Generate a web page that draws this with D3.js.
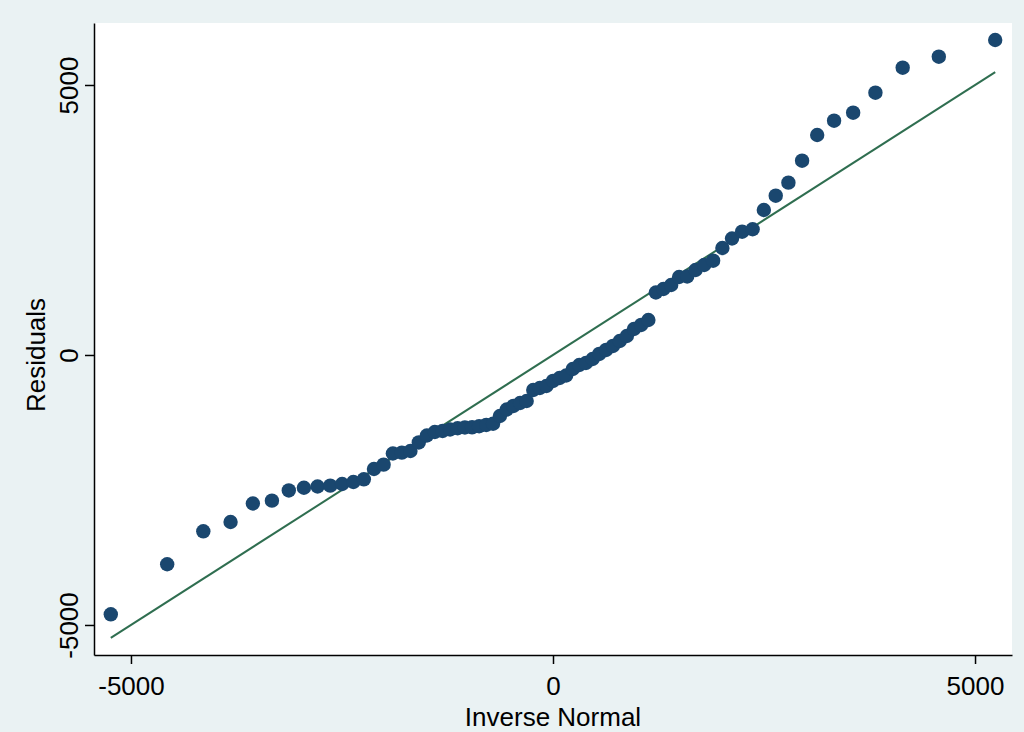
<!DOCTYPE html>
<html lang="en">
<head>
<meta charset="UTF-8">
<title>Residuals vs Inverse Normal</title>
<script src="https://d3js.org/d3.v7.min.js"></script>
<style>
    body {
        margin: 0;
        padding: 0;
        background-color: #eaf2f3;
        font-family: 'Liberation Sans', Arial, sans-serif;
    }
    #chart svg { display: block; }
    .axis path, .axis line { stroke: #000; stroke-width: 1.5; }
    .axis text { font-family: 'Liberation Sans', Arial, sans-serif; font-size: 26px; fill: #000; }
</style>
</head>
<body>
<div id="chart"></div>
<script>
    // inverse normal quantiles (x) and sorted residuals (y)
    const inverseNormal = [
        -5239, -4571, -4143, -3820, -3556, -3330, -3130, -2951, -2789, -2639,
        -2498, -2365, -2241, -2121, -2007, -1897, -1791, -1689, -1590, -1494,
        -1400, -1308, -1219, -1130, -1044, -959, -875, -791, -710, -629,
        -548, -469, -390, -312, -234, -156, -78, 0, 78, 156,
        234, 312, 390, 469, 548, 629, 710, 791, 875, 959,
        1044, 1130, 1219, 1308, 1400, 1494, 1590, 1689, 1791, 1897,
        2007, 2121, 2241, 2365, 2498, 2639, 2789, 2951, 3130, 3330,
        3556, 3820, 4143, 4571, 5239
    ];
    const residuals = [
        -4802, -3876, -3265, -3093, -2750, -2698, -2509, -2459, -2435, -2420,
        -2389, -2352, -2302, -2111, -2031, -1824, -1809, -1778, -1620, -1491,
        -1426, -1407, -1380, -1357, -1343, -1339, -1320, -1296, -1274, -1130,
        -1009, -944, -889, -852, -648, -611, -574, -481, -426, -380,
        -259, -185, -148, -74, 19, 93, 167, 259, 352, 481,
        556, 648, 1157, 1222, 1296, 1444, 1454, 1574, 1667, 1746,
        1981, 2157, 2283, 2328, 2685, 2950, 3191, 3598, 4074, 4339,
        4487, 4857, 5320, 5524, 5833
    ];
    const xTicks = [-5000, 0, 5000];
    const yTicks = [-5000, 0, 5000];
    const xDomain = [-5438, 5438];
    const yDomain = [-5556, 6148];

    const width = 1024, height = 732;
    const margin = { top: 23, right: 12, bottom: 77, left: 94 };

    const svg = d3.select("#chart").append("svg")
        .attr("width", width)
        .attr("height", height);

    svg.append("rect")
        .attr("width", width).attr("height", height)
        .attr("fill", "#eaf2f3");

    const x = d3.scaleLinear().domain(xDomain).range([margin.left, width - margin.right]);
    const y = d3.scaleLinear().domain(yDomain).range([height - margin.bottom, margin.top]);

    // plot region
    svg.append("rect")
        .attr("x", margin.left).attr("y", margin.top)
        .attr("width", width - margin.left - margin.right)
        .attr("height", height - margin.top - margin.bottom)
        .attr("fill", "#ffffff");

    const points = inverseNormal.map((v, i) => ({ q: v, r: residuals[i] }));

    // reference line y = x across the range of the quantiles
    const ext = d3.extent(inverseNormal);
    svg.append("line")
        .attr("x1", x(ext[0])).attr("y1", y(ext[0]))
        .attr("x2", x(ext[1])).attr("y2", y(ext[1]))
        .attr("stroke", "#2f6e50")
        .attr("stroke-width", 2);

    svg.append("g")
        .selectAll("circle")
        .data(points)
        .enter().append("circle")
        .attr("cx", d => x(d.q))
        .attr("cy", d => y(d.r))
        .attr("r", 7.2)
        .attr("fill", "#1a476f");

    const fmt = d => String(d);   // plain hyphen, like Stata

    const xAxis = svg.append("g")
        .attr("class", "axis")
        .attr("transform", `translate(0,${height - margin.bottom})`)
        .call(d3.axisBottom(x).tickValues(xTicks).tickFormat(fmt).tickSize(9).tickSizeOuter(0));
    xAxis.selectAll("text").attr("dy", null).attr("y", 40);

    const yAxis = svg.append("g")
        .attr("class", "axis")
        .attr("transform", `translate(${margin.left},0)`)
        .call(d3.axisLeft(y).tickValues(yTicks).tickFormat(fmt).tickSize(9).tickSizeOuter(0));
    yAxis.selectAll("text")
        .attr("x", null).attr("dy", null)
        .attr("text-anchor", "middle")
        .attr("transform", "translate(-16,0) rotate(-90)");

    svg.append("text")
        .attr("x", x(0)).attr("y", 725.5)
        .attr("text-anchor", "middle")
        .attr("font-size", "26px")
        .text("Inverse Normal");

    svg.append("text")
        .attr("transform", `translate(45,${y(0)}) rotate(-90)`)
        .attr("text-anchor", "middle")
        .attr("font-size", "26px")
        .text("Residuals");
</script>
</body>
</html>
